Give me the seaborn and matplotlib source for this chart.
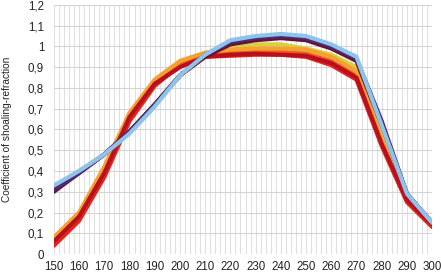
import pandas as pd
import seaborn as sns
import matplotlib.pyplot as plt
from matplotlib.ticker import MultipleLocator, FuncFormatter

# Wave direction (deg) and shoaling-refraction coefficient per series
directions = [150, 160, 170, 180, 190, 200, 210, 220, 230, 240, 250, 260, 270, 280, 290, 300]

s_yellow = [0.32, 0.40, 0.48, 0.59, 0.72, 0.86, 0.95, 1.00, 1.01, 1.01, 0.99, 0.96, 0.90, 0.60, 0.28, 0.15]
s_red = [0.04, 0.16, 0.37, 0.64, 0.81, 0.91, 0.95, 0.955, 0.96, 0.96, 0.95, 0.91, 0.84, 0.52, 0.25, 0.13]
s_orangered = [0.06, 0.18, 0.39, 0.66, 0.82, 0.92, 0.96, 0.97, 0.975, 0.975, 0.965, 0.93, 0.86, 0.53, 0.26, 0.14]
s_orange = [0.08, 0.20, 0.42, 0.68, 0.84, 0.93, 0.97, 0.985, 0.99, 0.99, 0.985, 0.95, 0.88, 0.55, 0.27, 0.14]
s_darkred = [0.06, 0.18, 0.39, 0.66, 0.82, 0.90, 0.95, 0.96, 0.965, 0.96, 0.955, 0.92, 0.85, 0.53, 0.26, 0.14]
s_maroon = [0.30, 0.39, 0.48, 0.59, 0.72, 0.86, 0.95, 1.01, 1.03, 1.04, 1.03, 0.99, 0.93, 0.62, 0.29, 0.15]
s_purple = [0.31, 0.39, 0.48, 0.59, 0.72, 0.86, 0.96, 1.02, 1.04, 1.05, 1.04, 1.00, 0.94, 0.64, 0.29, 0.15]
s_blue = [0.33, 0.40, 0.48, 0.58, 0.71, 0.86, 0.96, 1.03, 1.05, 1.06, 1.05, 1.01, 0.95, 0.62, 0.29, 0.15]

series = {
    'yellow': s_yellow, 'red': s_red, 'orangered': s_orangered, 'orange': s_orange,
    'darkred': s_darkred, 'maroon': s_maroon, 'purple': s_purple, 'blue': s_blue,
}
colors = ['#d8d040', '#e8231c', '#f05a1e', '#f5a030', '#b8101c', '#6a1030', '#4a2a70', '#8ec4ec']

rows = []
for name, vals in series.items():
    for d, v in zip(directions, vals):
        rows.append({'dir': d, 'coef': v, 'series': name})
df = pd.DataFrame(rows)

sns.set_style('white')
plt.rcParams['font.family'] = ['Liberation Sans', 'DejaVu Sans']

fig = plt.figure(figsize=(4.41, 2.72), dpi=100)
ax = fig.add_axes([0.122, 0.066, 0.858, 0.916])

sns.lineplot(data=df, x='dir', y='coef', hue='series', palette=colors,
             linewidth=3.0, legend=False, ax=ax, zorder=3)

ax.set_xlim(150, 300)
ax.set_ylim(0, 1.2)
ax.xaxis.set_major_locator(MultipleLocator(10))
ax.xaxis.set_minor_locator(MultipleLocator(2))
ax.yaxis.set_major_locator(MultipleLocator(0.1))
ax.yaxis.set_major_formatter(FuncFormatter(lambda v, p: ('%g' % round(v, 1)).replace('.', ',')))
ax.grid(which='major', axis='y', color='#d4d4d4', linewidth=0.8)
ax.grid(which='both', axis='x', color='#dedede', linewidth=0.7)
for s in ax.spines.values():
    s.set_visible(False)
ax.tick_params(labelsize=8.3, length=0, colors='#222222')
ax.tick_params(axis='y', pad=7)
ax.tick_params(axis='x', pad=5)
ax.set_xlabel('')
ax.set_ylabel('Coefficient of shoaling-refraction', fontsize=7.3, color='#222222')
ax.yaxis.set_label_coords(-0.11, 0.5)

fig.savefig('out.png', dpi=100)
